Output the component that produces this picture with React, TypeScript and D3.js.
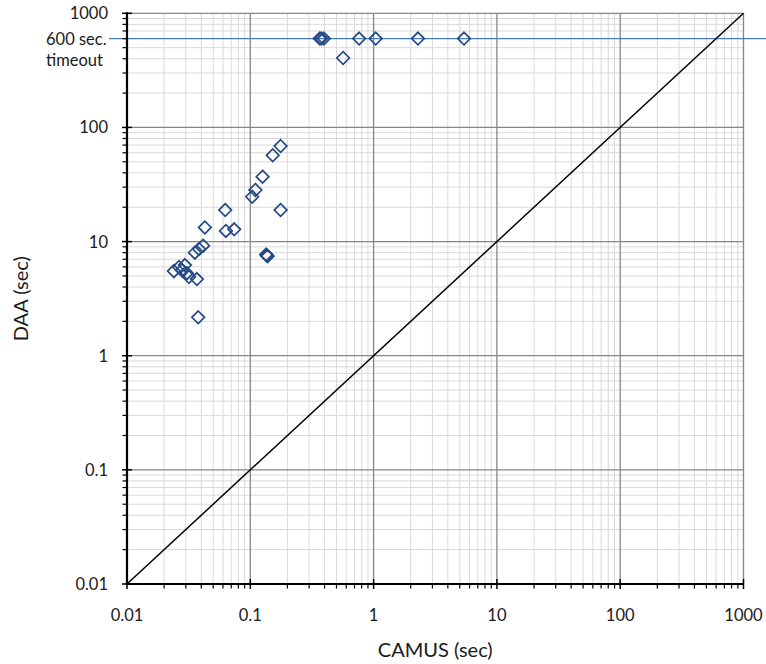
import React from "react";
import * as d3 from "d3";

const camus: number[] = [
  0.176, 0.152, 0.1258, 0.110, 0.1036, 0.176, 0.0626, 0.0428, 0.0634, 0.0741,
  0.1345, 0.1365, 0.138,
  0.0414, 0.0384, 0.0355,
  0.0240, 0.0264, 0.0295, 0.0279, 0.0306, 0.0318, 0.0369,
  0.0378,
  0.366, 0.376, 0.395, 0.763, 1.04, 2.29, 5.41, 0.566,
];
const daa: number[] = [
  68.7, 57, 37, 28.3, 24.7, 18.9, 18.9, 13.3, 12.4, 12.8,
  7.7, 7.55, 7.45,
  9.2, 8.6, 8.0,
  5.51, 5.98, 6.22, 5.62, 5.29, 4.89, 4.69,
  2.17,
  600, 600, 600, 600, 600, 600, 600, 406,
];
const majorTicks: number[] = [0.01, 0.1, 1, 10, 100, 1000];
const tickLabels: string[] = ["0.01", "0.1", "1", "10", "100", "1000"];
const timeoutValue = 600;

const W = 766;
const H = 664;
const left = 127;
const right = 743.5;
const top = 13.3;
const bottom = 584;
const FONT = "Lato, 'Open Sans', sans-serif";

export default function App() {
  const x = d3.scaleLog().domain([0.01, 1000]).range([left, right]);
  const y = d3.scaleLog().domain([0.01, 1000]).range([bottom, top]);

  const minors: number[] = [];
  for (let e = -2; e < 3; e++) {
    for (let m = 2; m <= 9; m++) minors.push(m * Math.pow(10, e));
  }
  const innerMajors = majorTicks.slice(1, -1);

  const diamond = (cx: number, cy: number) => {
    const r = 6.3;
    return `M${cx},${cy - r}L${cx + r},${cy}L${cx},${cy + r}L${cx - r},${cy}Z`;
  };

  return (
    <svg width={W} height={H} style={{ position: "absolute", left: 0, top: 0, background: "#fff" }}>
      {minors.map((v, i) => (
        <g key={"mg" + i}>
          <line x1={x(v)} x2={x(v)} y1={top} y2={bottom} stroke="#d9d9d9" strokeWidth={1} />
          <line x1={left} x2={right} y1={y(v)} y2={y(v)} stroke="#d9d9d9" strokeWidth={1} />
        </g>
      ))}
      {innerMajors.map((v, i) => (
        <g key={"Mg" + i}>
          <line x1={x(v)} x2={x(v)} y1={top} y2={bottom} stroke="#868686" strokeWidth={1.3} />
          <line x1={left} x2={right} y1={y(v)} y2={y(v)} stroke="#868686" strokeWidth={1.3} />
        </g>
      ))}
      <line x1={left} x2={right} y1={y(1000)} y2={y(1000)} stroke="#868686" strokeWidth={1.3} />
      <line x1={x(1000)} x2={x(1000)} y1={top} y2={bottom} stroke="#868686" strokeWidth={1.3} />

      <line x1={109} x2={W} y1={y(timeoutValue)} y2={y(timeoutValue)} stroke="#4a7ebb" strokeWidth={1.2} />

      <line x1={x(0.01)} y1={y(0.01)} x2={x(1000)} y2={y(1000)} stroke="#000" strokeWidth={1.5} />

      <line x1={left} x2={left} y1={top - 1} y2={bottom + 1} stroke="#000" strokeWidth={2.2} />
      <line x1={left - 1} x2={right} y1={bottom} y2={bottom} stroke="#000" strokeWidth={2.2} />
      {majorTicks.map((v, i) => (
        <g key={"t" + i}>
          <line x1={left - 5} x2={left + 5} y1={y(v)} y2={y(v)} stroke="#000" strokeWidth={1.5} />
          <line x1={x(v)} x2={x(v)} y1={bottom - 5} y2={bottom + 5} stroke="#000" strokeWidth={1.5} />
        </g>
      ))}
      {minors.map((v, i) => (
        <g key={"mt" + i}>
          <line x1={left - 4.5} x2={left} y1={y(v)} y2={y(v)} stroke="#000" strokeWidth={1.2} />
          <line x1={x(v)} x2={x(v)} y1={bottom} y2={bottom + 4.5} stroke="#000" strokeWidth={1.2} />
        </g>
      ))}

      {majorTicks.map((v, i) => (
        <g key={"l" + i} fontFamily={FONT} fontSize={16.5} fill="#1a1a1a">
          <text x={x(v)} y={621} textAnchor="middle">{tickLabels[i]}</text>
          <text x={108} y={y(v)} dy="0.36em" textAnchor="end">{tickLabels[i]}</text>
        </g>
      ))}
      <text x={46} y={y(timeoutValue)} dy="0.36em" fontFamily={FONT} fontSize={16.5} fill="#1a1a1a">600 sec.</text>
      <text x={46} y={60} dy="0.36em" fontFamily={FONT} fontSize={16.5} fill="#1a1a1a">timeout</text>

      <text x={(left + right) / 2} y={657} textAnchor="middle" fontFamily={FONT} fontSize={20} fill="#1a1a1a">CAMUS (sec)</text>
      <text transform={`translate(28,${(top + bottom) / 2}) rotate(-90)`} textAnchor="middle" fontFamily={FONT} fontSize={20} fill="#1a1a1a">DAA (sec)</text>

      {camus.map((c, i) => (
        <path key={"p" + i} d={diamond(x(c), y(daa[i]))} fill="none" stroke="#244a86" strokeWidth={1.7} />
      ))}
    </svg>
  );
}
